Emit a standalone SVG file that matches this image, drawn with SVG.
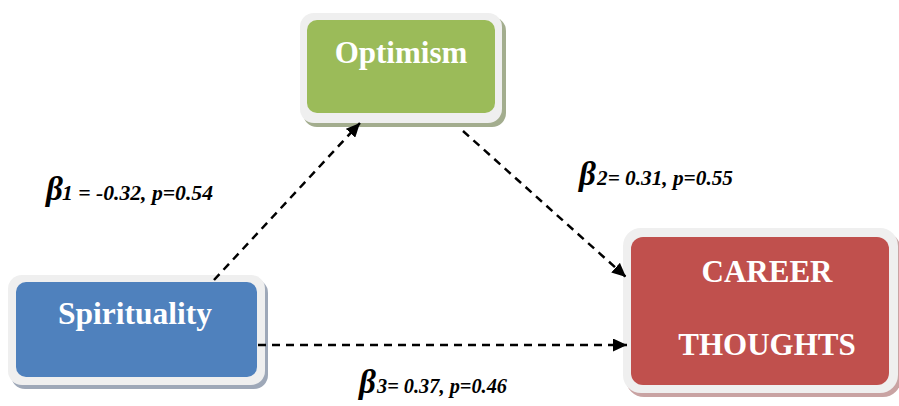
<svg xmlns="http://www.w3.org/2000/svg" width="899" height="406" viewBox="0 0 899 406">
<defs>
<marker id="arr" markerUnits="userSpaceOnUse" markerWidth="14" markerHeight="13" refX="14" refY="6.5" orient="auto">
<path d="M0,0 L14,6.5 L0,13 Z" fill="#000"/>
</marker>
<style>
.frame{fill:#efefef;}
.lbl{font-family:"Liberation Serif","Times New Roman",serif;font-weight:bold;fill:#fff;text-anchor:middle;}
.eq{font-family:"Liberation Serif","Times New Roman",serif;font-weight:bold;font-style:italic;fill:#000;}
.beta{font-size:33px;}
.conn{stroke:#000;stroke-width:2.5;stroke-dasharray:8,6;fill:none;}
</style>
</defs>
<rect width="899" height="406" fill="#fff"/>
<g id="optimism">
<rect x="303" y="17" width="203" height="110" rx="14" fill="#a3ad8e"/>
<rect class="frame" x="300" y="13" width="202" height="110" rx="14"/>
<rect x="307" y="20" width="188" height="93" rx="10" fill="#9bbb59"/>
<text class="lbl" x="401" y="63" font-size="31">Optimism</text>
</g>
<g id="spirituality">
<rect x="11" y="279" width="257" height="110" rx="14" fill="#9ea8b8"/>
<rect class="frame" x="8" y="275" width="257" height="110" rx="14"/>
<rect x="16" y="282" width="241" height="95" rx="10" fill="#4f81bd"/>
<text class="lbl" x="135" y="324" font-size="31.5">Spirituality</text>
</g>
<g id="career">
<rect x="626" y="232" width="275" height="165" rx="18" fill="#c9a3a3"/>
<rect class="frame" x="623" y="228" width="275" height="165" rx="18"/>
<rect x="631" y="237" width="258" height="148" rx="12" fill="#c0504d"/>
<text class="lbl" x="767" y="282" font-size="31">CAREER</text>
<text class="lbl" x="767" y="355" font-size="31">THOUGHTS</text>
</g>
<g id="connectors">
<line class="conn" x1="214" y1="280" x2="360" y2="123" marker-end="url(#arr)"/>
<line class="conn" x1="463" y1="131" x2="626" y2="277" marker-end="url(#arr)"/>
<line class="conn" x1="258" y1="345" x2="627" y2="345" marker-end="url(#arr)"/>
</g>
<g id="labels">
<text class="eq" x="46" y="200" font-size="21"><tspan class="beta">β</tspan><tspan x="62" textLength="151" lengthAdjust="spacingAndGlyphs">1 = -0.32, p=0.54</tspan></text>
<text class="eq" x="579" y="185" font-size="21.5"><tspan class="beta">β</tspan><tspan x="597" textLength="136" lengthAdjust="spacingAndGlyphs">2= 0.31, p=0.55</tspan></text>
<text class="eq" x="359" y="393" font-size="21"><tspan class="beta">β</tspan><tspan x="377" textLength="130" lengthAdjust="spacingAndGlyphs">3= 0.37, p=0.46</tspan></text>
</g>
</svg>
